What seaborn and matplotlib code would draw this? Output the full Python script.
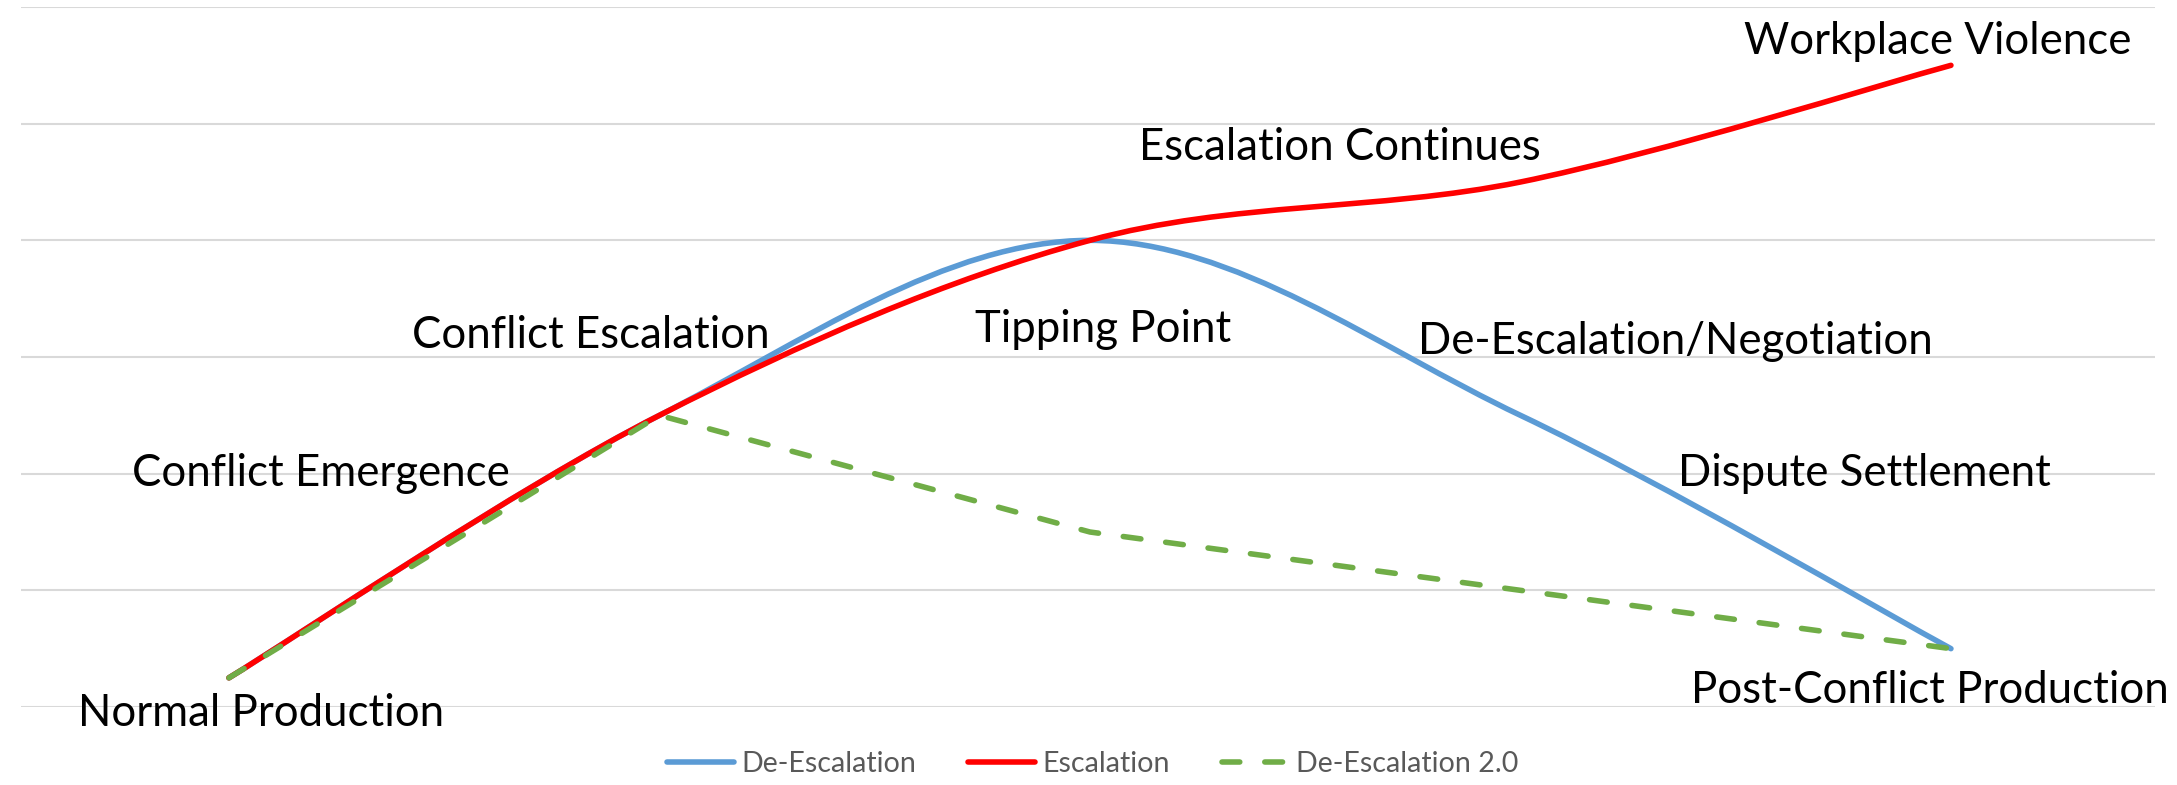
import numpy as np
import pandas as pd
import matplotlib
matplotlib.use("Agg")
import matplotlib.pyplot as plt
from matplotlib.path import Path
from matplotlib.patches import PathPatch
from matplotlib.lines import Line2D
import seaborn as sns

# ---------------- data ----------------
stages = ["Stage 1", "Stage 2", "Stage 3", "Stage 4", "Stage 5"]
de_escalation = [0.25, 2.5, 4.0, 2.5, 0.5]
escalation = [0.25, 2.5, 4.0, 4.5, 5.5]
de_escalation_2 = [0.25, 2.5, 1.5, 1.0, 0.5]
series_names = ["De-Escalation", "Escalation", "De-Escalation 2.0"]

label_texts = ["Normal Production", "Conflict Emergence", "Conflict Escalation",
               "Tipping Point", "Escalation Continues", "Workplace Violence",
               "De-Escalation/Negotiation", "Dispute Settlement",
               "Post-Conflict Production"]
# label anchor positions (layout, in data coordinates)
label_pos = [(0.074, -0.06), (0.214, 2.0), (0.84, 3.18), (2.03, 3.24),
             (2.58, 4.80), (3.97, 5.70), (3.36, 3.13), (3.80, 2.0), (3.95, 0.14)]

# ---------------- style ----------------
sns.set_theme(style="white")
plt.rcParams['font.family'] = ['Lato', 'DejaVu Sans']

BLUE = "#5B9BD5"
RED = "#FF0000"
GREEN = "#70AD47"
GRID = "#D9D9D9"
LW = 4.0
DASH = (0, (3.2, 4.5))

W, H = 2177, 785
fig = plt.figure(figsize=(W / 100, H / 100), dpi=100)
ax = fig.add_axes([21 / W, 1 - 707 / H, (2155 - 21) / W, 700 / H])

xidx = np.arange(len(stages))


def smooth_patch(xs, ys, color, z):
    P = np.column_stack([xs, ys]).astype(float)
    n = len(P)
    verts = [P[0]]
    codes = [Path.MOVETO]
    for i in range(n - 1):
        p0 = P[i - 1] if i > 0 else P[i]
        p1 = P[i]
        p2 = P[i + 1]
        p3 = P[i + 2] if i + 2 < n else P[i + 1]
        c1 = p1 + (p2 - p0) / 6.0
        c2 = p2 - (p3 - p1) / 6.0
        verts += [c1, c2, p2]
        codes += [Path.CURVE4] * 3
    patch = PathPatch(Path(verts, codes), facecolor="none", edgecolor=color,
                      lw=LW, capstyle="round", joinstyle="round", zorder=z)
    ax.add_patch(patch)


smooth_patch(xidx, de_escalation, BLUE, 2)
smooth_patch(xidx, escalation, RED, 3)

df_green = pd.DataFrame({"x": xidx, "y": de_escalation_2})
sns.lineplot(data=df_green, x="x", y="y", ax=ax, color=GREEN, lw=LW,
             linestyle=DASH, dash_capstyle="round", zorder=4, legend=False)

ax.set_xlim(-0.483, 4.474)
ax.set_ylim(0, 6)
ax.set_yticks(range(0, 7))
ax.set_xticks([])
ax.yaxis.grid(True, color=GRID, lw=1.5)
ax.xaxis.grid(False)
ax.tick_params(left=False, bottom=False, labelleft=False, labelbottom=False)
for s in ax.spines.values():
    s.set_visible(False)
ax.set_xlabel("")
ax.set_ylabel("")

for txt, (lx, ly) in zip(label_texts, label_pos):
    ax.text(lx, ly, txt, fontsize=31.5, color="black", ha="center", va="center",
            zorder=5, clip_on=False)

handles = [
    Line2D([], [], color=BLUE, lw=LW, solid_capstyle="round"),
    Line2D([], [], color=RED, lw=LW, solid_capstyle="round"),
    Line2D([], [], color=GREEN, lw=LW, linestyle=DASH, dash_capstyle="round"),
]
LFS = 20.6
leg = fig.legend(handles, series_names, loc="center", bbox_to_anchor=(1093 / W, 1 - 764 / H),
                 ncol=3, frameon=False, fontsize=LFS, handlelength=48 / LFS,
                 handletextpad=5.8 / LFS, columnspacing=37 / LFS, labelcolor="#595959",
                 borderpad=0, borderaxespad=0)

fig.savefig("out.png", dpi=100, facecolor="white")
